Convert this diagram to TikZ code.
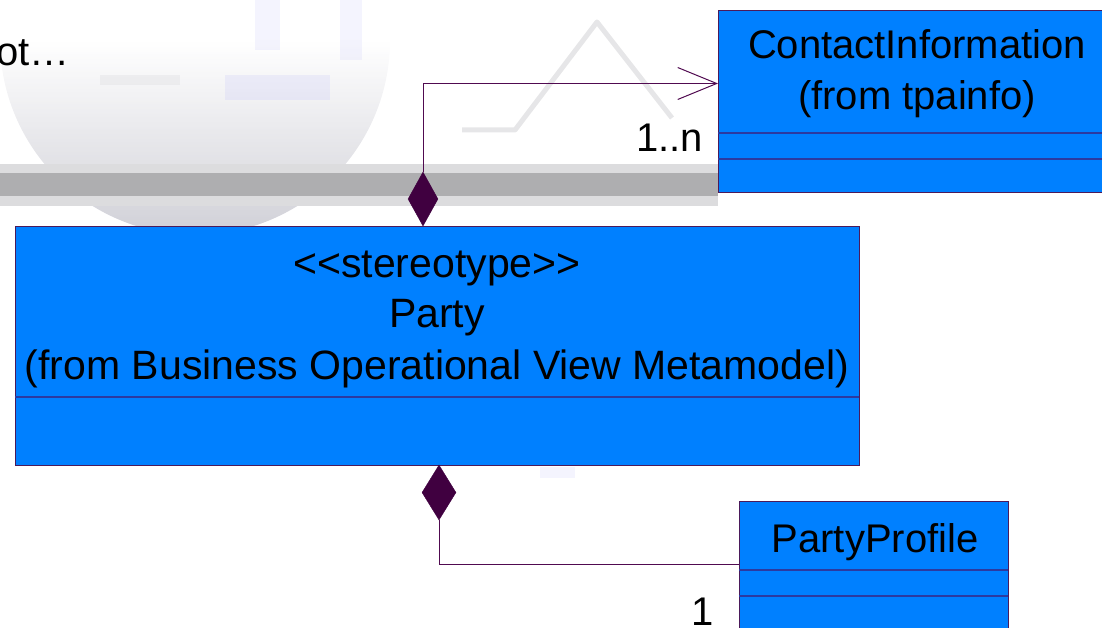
\documentclass[tikz,border=0pt]{standalone}
\usepackage{fontspec}
\setmainfont{Liberation Sans}
\usetikzlibrary{shapes.geometric,arrows.meta}
\definecolor{boxblue}{HTML}{0080FF}
\definecolor{boxborder}{HTML}{4B1A5A}
\definecolor{divider}{HTML}{2C3AA0}
\definecolor{linkcol}{HTML}{500A50}
\definecolor{diafill}{HTML}{400040}
\definecolor{wmgrey}{HTML}{A9A9AC}
\definecolor{wmlight}{HTML}{DCDCDE}
\definecolor{wmlav}{HTML}{C8C8F8}
\tikzset{
  umlbox/.style={draw=boxborder, fill=boxblue, line width=1pt, inner sep=0pt, anchor=north west},
  divline/.style={draw=divider, line width=1.2pt},
  lbl/.style={font=\fontsize{40}{50}\selectfont, inner sep=0pt, anchor=base, text=black},
  plbl/.style={font=\fontsize{41}{50}\selectfont, inner sep=0pt, anchor=base, text=black},
  compdia/.style={diamond, draw=diafill, fill=diafill, inner sep=0pt, shape aspect=0.55},
  assoc/.style={draw=linkcol, line width=1pt},
}
\begin{document}
\begin{tikzpicture}[x=1pt,y=1pt]
\useasboundingbox (0,0) rectangle (1102,-628);
\clip (0,0) rectangle (1102,-628);
% faded watermark
\begin{scope}
  \clip (0,-40) arc[start angle=180, end angle=360, x radius=195, y radius=195] -- cycle;
  \shade[top color=white, bottom color=wmgrey!80!wmlav, opacity=0.6] (0,-40) rectangle (390,-240);
\end{scope}
\fill[wmlav, opacity=0.25] (225,-75) rectangle (330,-100);
\fill[wmlav, opacity=0.2] (255,0) rectangle (280,-50);
\fill[wmlav, opacity=0.2] (340,0) rectangle (362,-60);
\fill[wmlight, opacity=0.35] (100,-75) rectangle (180,-85);
\fill[wmlav, opacity=0.2] (540,-467) rectangle (575,-478);
\fill[wmlight] (0,-164) rectangle (718,-206);
\fill[wmgrey, opacity=0.9] (0,-173) rectangle (718,-196);
\draw[wmlight, opacity=0.7, line width=5pt, line join=round] (462,-130) -- (515,-130) -- (597,-22) -- (672,-118);
\node[lbl, anchor=base west] (cut) at (-4,-66) {ot…};
% classes
\node[umlbox, minimum width=844pt, minimum height=239pt] (party) at (15,-226) {};
\draw[divline] (15,-397) -- (859,-397);
\node[plbl] (pst) at (437,-277) {<{}<stereotype>{}>};
\node[plbl] (pname) at (437,-327) {Party};
\node[plbl] (pfrom) at (437,-379) {(from Business Operational View Metamodel)};
\node[umlbox, minimum width=400pt, minimum height=182pt] (ci) at (718,-10) {};
\draw[divline] (718,-133) -- (1118,-133);
\draw[divline] (718,-159) -- (1118,-159);
\node[lbl] (ciname) at (917,-59) {ContactInformation};
\node[lbl] (cifrom) at (917,-110) {(from tpainfo)};
\node[umlbox, minimum width=269pt, minimum height=139pt] (pp) at (739,-501) {};
\draw[divline] (739,-570) -- (1008,-570);
\draw[divline] (739,-596) -- (1008,-596);
\node[lbl] (ppname) at (875,-552) {PartyProfile};
% connectors
\node[compdia, minimum width=30pt, minimum height=54pt] (d1) at (423,-199) {};
\node[compdia, minimum width=34pt, minimum height=55pt] (d2) at (439,-492.5) {};
\draw[assoc, -{Straight Barb[length=39pt, width=32pt, line width=1pt]}] (d1.north) |- ([yshift=18pt]ci.west);
\draw[assoc] (d2.south) |- ([yshift=6.5pt]pp.west);
\node[lbl, anchor=base east] (m1) at (703,-152) {1..n};
\node[lbl] (m2) at (703,-625) {1};
\end{tikzpicture}
\end{document}
